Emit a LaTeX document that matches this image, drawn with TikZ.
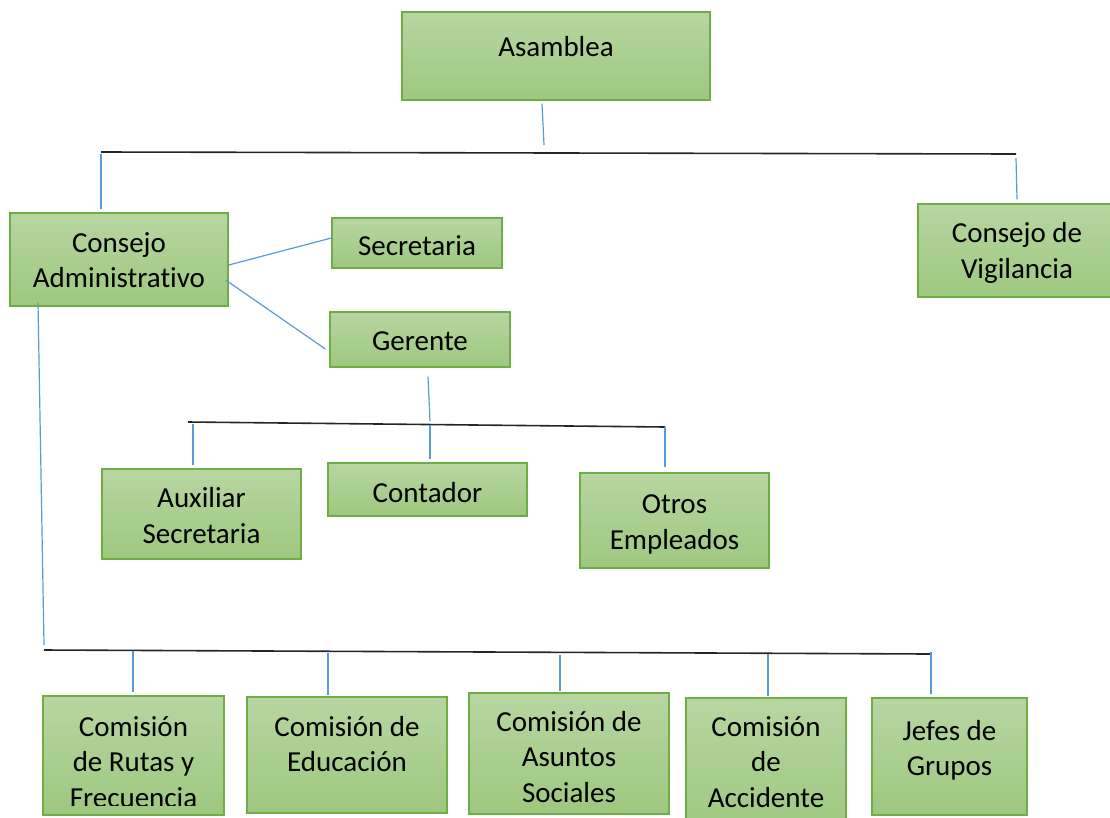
\documentclass[tikz,border=0pt]{standalone}
\usepackage{fontspec}
\setmainfont{Carlito}[Ligatures=NoCommon]
\usetikzlibrary{shapes}
\definecolor{boxline}{RGB}{112,173,71}
\definecolor{boxtop}{RGB}{183,214,162}
\definecolor{boxbot}{RGB}{157,200,127}
\definecolor{linkblue}{RGB}{91,155,213}
\begin{document}
\begin{tikzpicture}[x=1pt,y=-1pt,
	box/.style={draw=boxline,line width=1.3pt,top color=boxtop,bottom color=boxbot,inner sep=0pt},
	txt/.style={align=center,inner sep=0pt,font=\fontsize{29}{35.5}\selectfont},
	link/.style={draw=linkblue,line width=1.2pt},
	bus/.style={draw=black!85,line width=1.6pt}]
\useasboundingbox (0,0) rectangle (1110,817);
%asamblea
\node[box,minimum width=308pt,minimum height=88pt] (asamblea) at (556,56) {};
\node[txt] (asamblea-t) at (556,46.5) {Asamblea};
%consejos
\node[box,minimum width=218pt,minimum height=93pt] (consejo) at (119,259.5) {};
\node[txt] (consejo-t) at (119,260) {Consejo\\Administrativo};
\node[box,minimum width=198pt,minimum height=93pt] (vigil) at (1017,250.5) {};
\node[txt] (vigil-t) at (1017,253) {Consejo de\\Vigilancia};
%secretaria, gerente
\node[box,minimum width=170pt,minimum height=50pt] (secret) at (417,243) {};
\node[txt] (secret-t) at (417,246) {Secretaria};
\node[box,minimum width=180pt,minimum height=55pt] (gerente) at (420,339.5) {};
\node[txt] (gerente-t) at (420,341) {Gerente};
%empleados
\node[box,minimum width=199pt,minimum height=90pt] (aux) at (201.5,514) {};
\node[txt] (aux-t) at (201.5,515.5) {Auxiliar\\Secretaria};
\node[box,minimum width=199pt,minimum height=53pt] (contador) at (427.5,489.5) {};
\node[txt] (contador-t) at (427.5,492.5) {Contador};
\node[box,minimum width=189pt,minimum height=95pt] (otros) at (674.5,520.5) {};
\node[txt] (otros-t) at (674.5,524.5) {Otros\\Empleados};
%comisiones
\node[box,minimum width=181pt,minimum height=119pt] (rutas) at (133.5,755.5) {};
\begin{scope}
\clip (43,696) rectangle (224,805);
\node[txt] (rutas-t) at (133.5,762) {Comisión\\de Rutas y\\Frecuencia};
\end{scope}
\node[box,minimum width=200pt,minimum height=116pt] (educ) at (347,755) {};
\node[txt] (educ-t) at (347,744) {Comisión de\\Educación};
\node[box,minimum width=200pt,minimum height=121pt] (asuntos) at (569,753.5) {};
\node[txt] (asuntos-t) at (569,757) {Comisión de\\Asuntos\\Sociales};
\node[box,minimum width=160pt,minimum height=134pt] (acc) at (766,765) {};
\node[txt] (acc-t) at (766,762) {Comisión\\de\\Accidente};
\node[box,minimum width=155pt,minimum height=117pt] (jefes) at (949.5,756.5) {};
\node[txt] (jefes-t) at (949.5,750.5) {Jefes de\\Grupos};
%top bus
\coordinate (top-w) at (101,152);
\coordinate (top-e) at (1016,154);
\coordinate (top-a) at (544,145);
\draw[link] ([xshift=-14pt,yshift=-3pt]asamblea.south) -- (top-a);
\draw[bus] (top-w) -- (top-e);
\draw[link] ([yshift=-2pt]top-w) -- ([xshift=-18pt,yshift=3pt]consejo.north);
\draw[link] ([yshift=-4pt]top-e) -- ([yshift=4pt]vigil.north);
%consejo links
\draw[link] ([yshift=-5.5pt]consejo.east) -- ([yshift=5pt]secret.west);
\draw[link] ([xshift=-3pt,yshift=-20.5pt]consejo.east) -- ([xshift=-4pt,yshift=-9.5pt]gerente.west);
%middle bus
\coordinate (mid-w) at (188,422);
\coordinate (mid-e) at (665,427);
\coordinate (mid-g) at (430,421);
\coordinate (mid-a) at (193,424);
\coordinate (mid-c) at (430,425);
\draw[link] ([xshift=8pt,yshift=-9pt]gerente.south) -- (mid-g);
\draw[bus] (mid-w) -- (mid-e);
\draw[link] (mid-a) -- ([xshift=-8.5pt,yshift=3pt]aux.north);
\draw[link] (mid-c) -- ([xshift=2.5pt,yshift=3pt]contador.north);
\draw[link] (mid-e) -- ([xshift=-9.5pt,yshift=5pt]otros.north);
%bottom bus
\coordinate (bot-w) at (44,650);
\coordinate (bot-e) at (930,654);
\coordinate (bot-r) at (133,651);
\coordinate (bot-d) at (328,653);
\coordinate (bot-s) at (560,655);
\coordinate (bot-c) at (768,654);
\coordinate (bot-j) at (931,652);
\draw[link] ([xshift=-81pt,yshift=4pt]consejo.south) -- ([yshift=5pt]bot-w);
\draw[bus] (bot-w) -- (bot-e);
\draw[link] (bot-r) -- ([xshift=-0.5pt,yshift=3pt]rutas.north);
\draw[link] (bot-d) -- ([xshift=-19pt,yshift=1pt]educ.north);
\draw[link] (bot-s) -- ([xshift=-9pt,yshift=1pt]asuntos.north);
\draw[link] (bot-c) -- ([xshift=2pt,yshift=1pt]acc.north);
\draw[link] (bot-j) -- ([xshift=-18.5pt,yshift=3pt]jefes.north);
\end{tikzpicture}
\end{document}
